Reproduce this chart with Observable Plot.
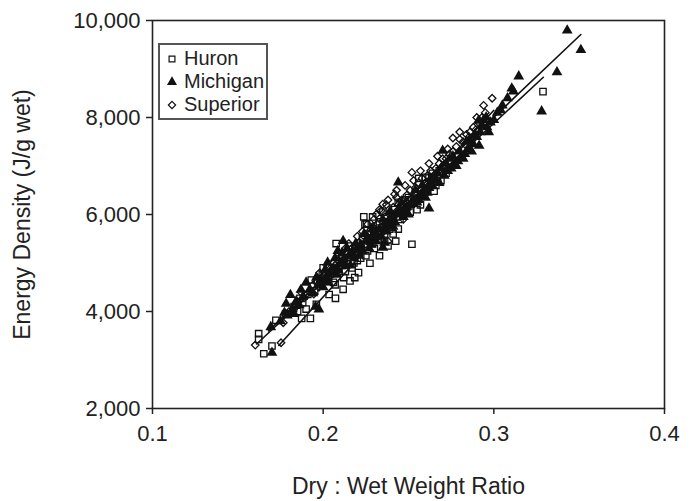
<!DOCTYPE html>
<html>
<head>
<meta charset="utf-8">
<script src="https://cdn.jsdelivr.net/npm/d3@7"></script>
<script src="https://cdn.jsdelivr.net/npm/@observablehq/plot@0.6"></script>
<style>
  body { margin: 0; background: #fff; }
  #wrap { position: relative; width: 694px; height: 501px; font-family: "Liberation Sans", Arial, sans-serif; }
  #legend { position: absolute; left: 158px; top: 43px; width: 106px; height: 73px; border: 2px solid #555; background: #fff; box-sizing: content-box; }
  #legend .row { position: absolute; left: 0; height: 23px; font-size: 20px; color: #222; line-height: 23px; }
  #legend svg { position: absolute; left: 6px; top: 6px; }
  #legend span { position: absolute; left: 24px; white-space: nowrap; }
</style>
</head>
<body>
<div id="wrap"></div>
<script>
// Lake series: [dry:wet ratio, energy density J/g wet]
const huron = [
  [0.1622,3542],[0.1622,3425],[0.1652,3129],[0.170,3288],[0.1723,3818],[0.1864,4272],[0.1874,3859],[0.1925,3859],
  [0.1995,4768],[0.2072,4272],[0.2076,5401],[0.2117,4458],[0.2157,4630],[0.2207,4802],[0.2238,5952],[0.2254,5814],
  [0.2274,4995],[0.252,5387],[0.256,6744],[0.267,6744],[0.260,6765],[0.246,6076],[0.3288,8534],
  [0.178,3950],[0.183,4100],[0.188,4180],[0.191,4350],[0.195,4420],[0.198,4560],[0.201,4620],[0.203,4700],
  [0.205,4790],[0.206,4600],[0.209,4880],[0.211,4950],[0.213,4820],[0.214,5050],[0.216,5120],[0.218,5000],
  [0.219,5200],[0.221,5280],[0.222,5100],[0.224,5350],[0.226,5250],[0.227,5450],[0.229,5400],[0.231,5550],
  [0.232,5480],[0.234,5650],[0.236,5600],[0.237,5780],[0.239,5700],[0.241,5850],[0.243,5950],[0.245,5900],
  [0.247,6080],[0.249,6150],[0.251,6050],[0.253,6250],[0.258,6400],[0.261,6520],[0.263,6600],[0.265,6480],
  [0.269,6700],[0.272,6850],[0.2245,5800],[0.233,5150],[0.238,5350],[0.2425,5450],[0.196,4150],[0.2035,4350],
  [0.2185,4700],[0.2295,5700],[0.235,6050],[0.255,6100],[0.241,5600],
  [0.200,4900],[0.207,4550],[0.212,4700],[0.217,4900],[0.220,5050],[0.223,5500],[0.228,5600],[0.230,5300],
  [0.233,5850],[0.236,5450],[0.240,5750],[0.242,6100],[0.244,5700],[0.248,6300],[0.250,6350],[0.254,6450],
  [0.257,6200],[0.262,6750],[0.264,6850],[0.268,6900],[0.190,4050],[0.185,4000],[0.193,4650],[0.215,5350],
  [0.225,5150],[0.229,5950],[0.244,6250],[0.266,6600]
];
const michigan = [
  [0.343,9794],[0.351,9394],[0.337,8933],[0.3146,8850],[0.328,8128],[0.3105,8600],[0.3115,8540],[0.2914,7418],
  [0.262,6124],[0.244,6661],[0.2086,5250],[0.2117,5456],[0.2026,5009],[0.190,4596],[0.1808,4341],[0.1975,4045],
  [0.1955,4100],[0.1783,4162],[0.1773,3976],[0.1693,3680],[0.170,3150],[0.235,5318],[0.236,5420],[0.270,7315],
  [0.286,7522],[0.291,7935],[0.2955,8004],[0.293,7850],
  [0.175,3800],[0.179,3920],[0.182,4050],[0.184,4200],[0.186,4130],[0.188,4300],[0.192,4450],[0.194,4380],
  [0.197,4550],[0.199,4650],[0.200,4500],[0.202,4720],[0.204,4800],[0.206,4900],[0.208,4760],[0.210,5000],
  [0.212,5080],[0.213,4950],[0.215,5150],[0.217,5220],[0.218,5100],[0.220,5300],[0.222,5380],[0.223,5250],
  [0.225,5450],[0.226,5520],[0.228,5380],[0.230,5600],[0.231,5450],[0.233,5700],[0.234,5550],[0.236,5750],
  [0.238,5820],[0.240,5900],[0.241,5750],[0.243,6000],[0.245,6050],[0.247,5950],[0.249,6150],[0.251,6200],
  [0.253,6300],[0.255,6250],[0.257,6400],[0.259,6450],[0.260,6350],[0.262,6550],[0.264,6600],[0.266,6700],
  [0.268,6650],[0.271,6800],[0.273,6900],[0.275,6950],[0.277,7050],[0.279,7100],[0.281,7200],[0.283,7250],
  [0.285,7350],[0.288,7450],[0.290,7600],[0.292,7700],[0.296,7800],[0.298,7900],[0.300,7950],[0.302,8100],
  [0.305,8250],[0.308,8400],[0.278,7000],[0.282,7150],[0.287,7300],
  [0.196,4700],[0.201,4850],[0.203,4600],[0.207,5100],[0.209,4850],[0.211,5200],[0.214,5300],[0.216,4950],
  [0.219,5400],[0.221,5150],[0.224,5600],[0.227,5300],[0.229,5700],[0.232,5550],[0.235,5900],[0.237,5650],
  [0.239,6050],[0.242,5850],[0.246,6250],[0.248,6050],[0.250,6000],[0.254,6500],[0.256,6300],[0.258,6600],
  [0.261,6450],[0.263,6750],[0.267,6850],[0.269,6950],[0.272,7050],[0.274,7150],[0.276,7200],[0.280,7300],
  [0.284,7500],[0.289,7650],[0.294,7950],[0.297,7700],[0.304,8150],[0.187,4450],[0.183,3950]
];
const superior = [
  [0.299,8396],[0.276,7577],[0.280,7700],[0.252,6868],[0.2419,6420],[0.243,6350],[0.2349,6213],[0.234,6080],
  [0.248,6140],[0.247,5900],[0.238,5450],[0.2026,4940],[0.2055,4770],[0.1975,4500],[0.1945,4360],[0.1835,4150],
  [0.1766,3769],[0.1602,3308],[0.1753,3356],[0.270,7000],[0.2855,7600],[0.2895,7750],[0.2178,5150],[0.2258,5500],
  [0.2298,5900],
  [0.180,4000],[0.185,4200],[0.189,4280],[0.192,4400],[0.196,4600],[0.199,4700],[0.201,4800],[0.204,4880],
  [0.207,4950],[0.209,5050],[0.211,5120],[0.214,5200],[0.216,5280],[0.219,5350],[0.221,5420],[0.224,5550],
  [0.227,5650],[0.229,5750],[0.232,5800],[0.236,5950],[0.239,6050],[0.241,6150],[0.244,6200],[0.246,6300],
  [0.249,6400],[0.251,6500],[0.254,6550],[0.256,6650],[0.258,6750],[0.261,6800],[0.263,6900],[0.266,6950],
  [0.268,7050],[0.272,7150],[0.274,7250],[0.278,7400],[0.282,7500],[0.284,7650],[0.288,7800],[0.291,7900],
  [0.293,8000],[0.295,8100],[0.213,5300],[0.223,5650],[0.231,6000],[0.237,6200],
  [0.187,4400],[0.194,4550],[0.198,4800],[0.203,4650],[0.206,5000],[0.208,4850],[0.212,5000],[0.215,5400],
  [0.218,5250],[0.220,5550],[0.222,5350],[0.226,5800],[0.228,5500],[0.230,5650],[0.233,6100],[0.235,5750],
  [0.238,6300],[0.240,5950],[0.243,6500],[0.245,6100],[0.248,6600],[0.250,6300],[0.253,6700],[0.255,6450],
  [0.257,6900],[0.260,6650],[0.262,7050],[0.265,6800],[0.267,7200],[0.270,7150],[0.273,7350],[0.276,7300],
  [0.280,7550],[0.283,7450],[0.286,7700],[0.290,8000],[0.294,8250]
];
// Fitted regression lines (end points)
const huronFit = [[0.161,3330],[0.329,8830]];
const michiganFit = [[0.168,3600],[0.351,9711]];
const superiorFit = [[0.174,3300],[0.300,8150]];

const xTicks = [0.1,0.2,0.3,0.4];
const yTicks = [2000,4000,6000,8000,10000];
const seriesNames = ["Huron","Michigan","Superior"];
const xLabel = "Dry : Wet Weight Ratio";
const yLabel = "Energy Density (J/g wet)";

const X = d => d[0], Y = d => d[1];
const chart = Plot.plot({
  width: 694, height: 501,
  marginLeft: 152, marginRight: 30, marginTop: 20, marginBottom: 93,
  style: { fontFamily: "Liberation Sans, Arial, sans-serif", fontSize: "22px", color: "#222", background: "#fff", overflow: "visible" },
  x: { domain: [0.1, 0.4] },
  y: { domain: [2000, 10000] },
  marks: [
    Plot.frame({ stroke: "#222", strokeWidth: 1.6 }),
    Plot.axisX({ ticks: xTicks, tickFormat: d3.format(".1f"), tickSize: 6, tickPadding: 11, strokeWidth: 1.5, label: null }),
    Plot.axisY({ ticks: yTicks, tickFormat: d3.format(","), tickSize: 6, tickPadding: 6, strokeWidth: 1.5, label: null }),
    Plot.text([xLabel], { text: d => d, frameAnchor: "bottom", dy: 78, fontSize: 23, fill: "#222", textAnchor: "middle", lineAnchor: "middle" }),
    Plot.text([yLabel], { text: d => d, frameAnchor: "left", dx: -130, rotate: -90, fontSize: 23, fill: "#222", textAnchor: "middle", lineAnchor: "middle" }),
    Plot.line(huronFit, { x: X, y: Y, stroke: "#111", strokeWidth: 1.6 }),
    Plot.line(michiganFit, { x: X, y: Y, stroke: "#111", strokeWidth: 1.6 }),
    Plot.line(superiorFit, { x: X, y: Y, stroke: "#111", strokeWidth: 1.6 }),
    Plot.dot(huron, { x: X, y: Y, symbol: "square", r: 3.6, fill: "none", stroke: "#111", strokeWidth: 1.3 }),
    Plot.dot(superior, { x: X, y: Y, symbol: "diamond2", r: 3.4, fill: "none", stroke: "#111", strokeWidth: 1.3 }),
    Plot.dot(michigan, { x: X, y: Y, symbol: "triangle", r: 4, fill: "#111", stroke: "none" })
  ]
});
const wrap = document.getElementById("wrap");
wrap.appendChild(chart);

// Legend
const legend = document.createElement("div");
legend.id = "legend";
seriesNames.forEach((name, i) => {
  const row = document.createElement("div");
  row.className = "row";
  row.style.top = (2 + i * 23) + "px";
  row.style.width = "106px";
  const s = d3.create("svg").attr("width", 12).attr("height", 12);
  const sym = d3.symbol(i === 0 ? d3.symbolSquare : i === 1 ? d3.symbolTriangle : d3.symbolDiamond2, i === 1 ? 44 : 34)();
  s.append("path").attr("d", sym).attr("transform", "translate(6,6)")
    .attr("fill", i === 1 ? "#111" : "none").attr("stroke", i === 1 ? "none" : "#111").attr("stroke-width", 1.2);
  row.appendChild(s.node());
  const t = document.createElement("span");
  t.textContent = name;
  row.appendChild(t);
  legend.appendChild(row);
});
wrap.appendChild(legend);
</script>
</body>
</html>
